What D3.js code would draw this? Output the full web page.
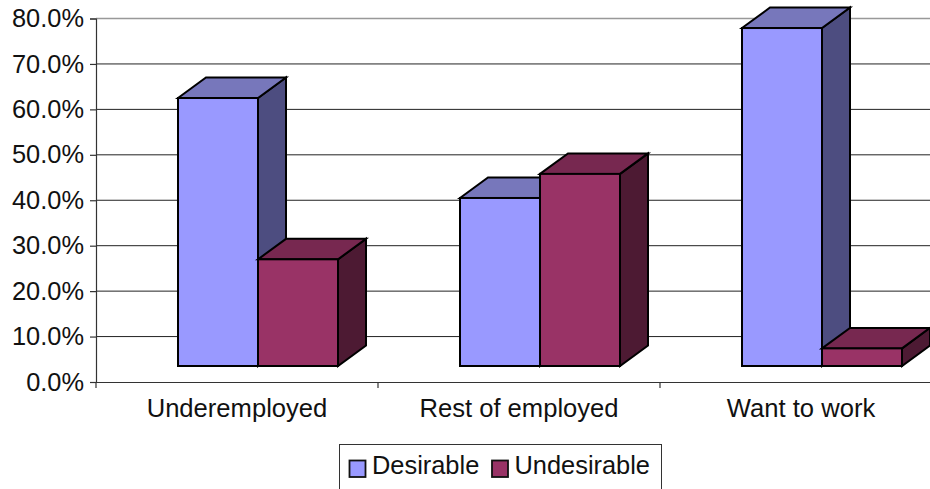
<!DOCTYPE html>
<html>
<head>
<meta charset="utf-8">
<script src="https://cdn.jsdelivr.net/npm/d3@7"></script>
<style>
html, body { margin: 0; padding: 0; background: #fff; overflow: hidden; }
svg { display: block; }
text { font-family: "Liberation Sans", Arial, sans-serif; fill: #111; }
</style>
</head>
<body>
<script>
var categories = ["Underemployed", "Rest of employed", "Want to work"];
var seriesNames = ["Desirable", "Undesirable"];
var desirable = [62.5, 40.5, 77.9];
var undesirable = [27.0, 45.8, 7.4];
var yTicks = [0, 10, 20, 30, 40, 50, 60, 70, 80];

var width = 930,
  height = 489;

var colors = {
  Desirable: { front: "#9999ff", top: "#7777bb", side: "#4d4d80" },
  Undesirable: { front: "#993366", top: "#772850", side: "#4d1a33" }
};

// the bars stand on a floor a bit above the axis, depth goes up and right
var floorOffset = 16,
  depthX = 28,
  depthY = 20.5;

var svg = d3.select("body").append("svg")
  .attr("width", width)
  .attr("height", height);

var x = d3.scaleBand()
  .domain(categories)
  .range([96, 942]);

var xInner = d3.scaleBand()
  .domain(seriesNames)
  .range([82, 242]);

var y = d3.scaleLinear()
  .domain([0, 80])
  .range([382, 18.5]);

// gridlines
svg.append("g")
  .selectAll("line")
  .data(yTicks.slice(1))
  .enter().append("line")
  .attr("x1", x.range()[0])
  .attr("x2", width)
  .attr("y1", function(d) { return y(d); })
  .attr("y2", function(d) { return y(d); })
  .attr("stroke", function(d) { return d == 80 ? "#999" : "#222"; })
  .attr("stroke-width", function(d) { return d == 80 ? 1.6 : 1; });

// axes
var yAxis = d3.axisLeft(y)
  .tickValues(yTicks)
  .tickSize(6)
  .tickPadding(6)
  .tickFormat(function(d) { return d.toFixed(1) + "%"; });

var gy = svg.append("g")
  .attr("transform", "translate(96,0)")
  .call(yAxis);
gy.select(".domain").attr("stroke", "#333").attr("stroke-width", 1.2);
gy.selectAll(".tick line").attr("stroke", "#333").attr("stroke-width", 1.2);
gy.selectAll("text").style("font-size", "25.4px").attr("fill", "#111");

var xAxis = d3.axisBottom(x)
  .tickSize(0)
  .tickPadding(17);

var gx = svg.append("g")
  .attr("transform", "translate(0,382)")
  .call(xAxis);
gx.select(".domain").attr("stroke", "#333").attr("stroke-width", 1.2);
gx.selectAll("text").style("font-size", "25.6px").attr("fill", "#111");

// tick marks sit on the band edges
svg.append("g")
  .selectAll("line")
  .data(categories)
  .enter().append("line")
  .attr("x1", function(d) { return x(d); })
  .attr("x2", function(d) { return x(d); })
  .attr("y1", 382)
  .attr("y2", 388)
  .attr("stroke", "#333")
  .attr("stroke-width", 1.2);

// draws one box: side, top, then front
function drawBar(g, name, category, value) {
  var left = x(category) + xInner(name),
    right = left + xInner.bandwidth(),
    top = y(value),
    bottom = y(0) - floorOffset,
    c = colors[name];

  g.append("path")
    .attr("d", "M" + right + "," + top +
      "L" + (right + depthX) + "," + (top - depthY) +
      "L" + (right + depthX) + "," + (bottom - depthY) +
      "L" + right + "," + bottom + "Z")
    .attr("fill", c.side);

  g.append("path")
    .attr("d", "M" + left + "," + top +
      "L" + (left + depthX) + "," + (top - depthY) +
      "L" + (right + depthX) + "," + (top - depthY) +
      "L" + right + "," + top + "Z")
    .attr("fill", c.top);

  g.append("rect")
    .attr("x", left)
    .attr("y", top)
    .attr("width", right - left)
    .attr("height", bottom - top)
    .attr("fill", c.front);

  g.selectAll("path, rect")
    .attr("stroke", "#000")
    .attr("stroke-width", 2)
    .attr("stroke-linejoin", "miter");
}

var bars = svg.append("g");
categories.forEach(function(cat, i) {
  drawBar(bars.append("g"), "Desirable", cat, desirable[i]);
  drawBar(bars.append("g"), "Undesirable", cat, undesirable[i]);
});

// legend, its bottom edge runs off the page
var legend = svg.append("g");
legend.append("rect")
  .attr("x", 339.5)
  .attr("y", 444.5)
  .attr("width", 322)
  .attr("height", 60)
  .attr("fill", "#fff")
  .attr("stroke", "#333")
  .attr("stroke-width", 1);

var legendX = [349.5, 492];
seriesNames.forEach(function(name, i) {
  legend.append("rect")
    .attr("x", legendX[i])
    .attr("y", 460.5)
    .attr("width", 16)
    .attr("height", 16.5)
    .attr("fill", colors[name].front)
    .attr("stroke", "#111")
    .attr("stroke-width", 1.8);
  legend.append("text")
    .attr("x", legendX[i] + 22.5)
    .attr("y", 474)
    .style("font-size", "25.4px")
    .text(name);
});
</script>
</body>
</html>
